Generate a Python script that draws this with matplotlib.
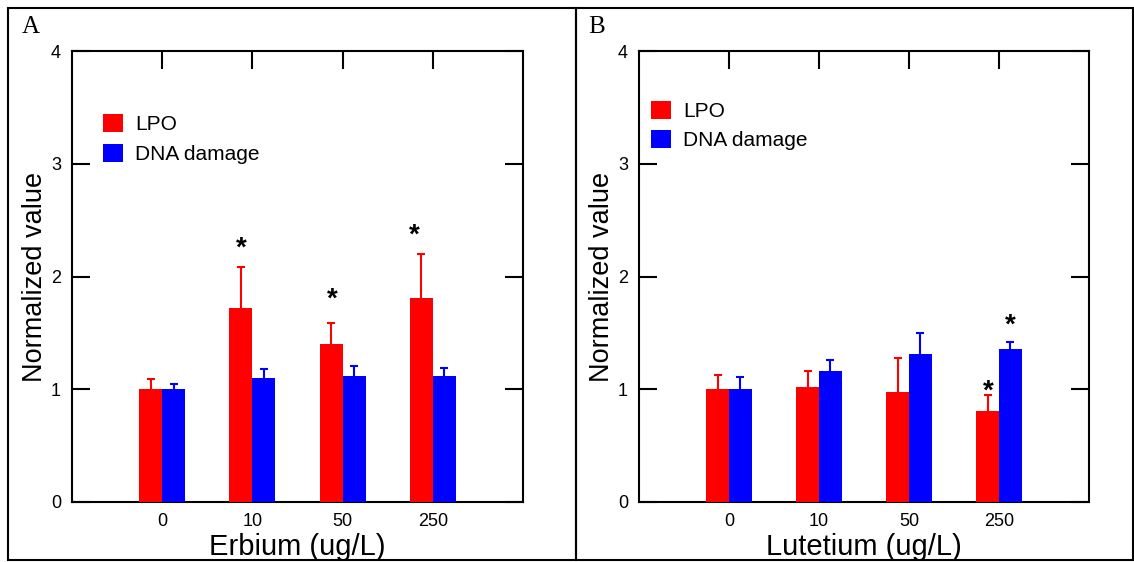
import matplotlib
matplotlib.use("Agg")
import matplotlib.pyplot as plt
import matplotlib.transforms as mtransforms
from matplotlib.patches import Rectangle
import numpy as np

plt.rcParams['font.family'] = ['Liberation Sans', 'DejaVu Sans']

conc = ["0", "10", "50", "250"]

# panel A - Erbium
er_lpo = [1.00, 1.72, 1.40, 1.81]
er_lpo_err = [0.09, 0.36, 0.19, 0.39]
er_dna = [1.00, 1.10, 1.12, 1.115]
er_dna_err = [0.05, 0.08, 0.09, 0.07]
er_star_x = [0.875, 1.885, 2.79]
er_star_y = [2.28, 1.83, 2.40]

# panel B - Lutetium
lu_lpo = [1.00, 1.02, 0.98, 0.81]
lu_lpo_err = [0.13, 0.14, 0.30, 0.14]
lu_dna = [1.00, 1.16, 1.31, 1.357]
lu_dna_err = [0.11, 0.10, 0.19, 0.06]
lu_star_x = [2.88, 3.13]
lu_star_y = [1.01, 1.60]

W, H = 1134, 562
fig = plt.figure(figsize=(W/100, H/100), dpi=100)

def px(x0, y0, x1, y1):
    return [x0/W, 1 - y1/H, (x1-x0)/W, (y1-y0)/H]

# outer boxes
for (x0, x1) in [(8, 576), (576, 1133)]:
    fig.add_artist(Rectangle((x0/W, 1-560/H), (x1-x0)/W, (560-8)/H,
                             transform=fig.transFigure, fill=False,
                             lw=1.5, ec='black'))

def up_err(ax, x, y, err, col):
    # one-sided (upper) error bars
    _, caps, _ = ax.errorbar(x, y, yerr=[np.zeros(len(y)), err], fmt='none',
                             ecolor=col, elinewidth=1.5, capsize=3,
                             capthick=1.5, zorder=2)
    caps[0].set_visible(False)

def panel(rect, lpo, lpo_err, dna, dna_err, sx, sy, xlabel, letter, lx, leg_anchor):
    ax = fig.add_axes(rect)
    x = np.arange(len(conc))
    w = 0.255
    ax.bar(x - w/2, lpo, w, color='#ff0000', label='LPO', zorder=3)
    ax.bar(x + w/2, dna, w, color='#0000ff', label='DNA damage', zorder=3)
    up_err(ax, x - w/2, lpo, lpo_err, '#ff0000')
    up_err(ax, x + w/2, dna, dna_err, '#0000ff')
    star_tr = mtransforms.offset_copy(ax.transData, fig=fig, x=0, y=-4, units='dots')
    for xs, ys in zip(sx, sy):
        ax.text(xs, ys, '*', ha='center', va='center', fontsize=20,
                fontweight='bold', transform=star_tr)
    ax.set_xlim(-1, 4)
    ax.set_ylim(0, 4)
    ax.set_yticks([0, 1, 2, 3, 4])
    ax.set_xticks(x)
    ax.set_xticklabels(conc)
    ax.tick_params(axis='both', direction='in', length=13, width=1.5,
                   labelsize=13, top=True, right=True, pad=8)
    ax.tick_params(axis='x', bottom=False)
    for s in ax.spines.values():
        s.set_linewidth(1.5)
    ax.set_xlabel(xlabel, fontsize=21, labelpad=2)
    ax.set_ylabel('Normalized value', fontsize=19.5, labelpad=2)
    ax.legend(loc='upper left', bbox_to_anchor=leg_anchor, frameon=False,
              fontsize=15, handlelength=0.95, handleheight=0.95,
              handletextpad=0.6, labelspacing=0.45, borderpad=0,
              borderaxespad=0)
    fig.text(lx/W, 1 - 27/H, letter, family='Liberation Serif', fontsize=18,
             va='center', ha='left')
    return ax

panel(px(72, 51, 523, 502), er_lpo, er_lpo_err, er_dna, er_dna_err,
      er_star_x, er_star_y, 'Erbium (ug/L)', 'A', 22, (0.069, 0.86))
panel(px(639, 51, 1089, 502), lu_lpo, lu_lpo_err, lu_dna, lu_dna_err,
      lu_star_x, lu_star_y, 'Lutetium (ug/L)', 'B', 588, (0.027, 0.89))

fig.savefig('out.png', dpi=100)
